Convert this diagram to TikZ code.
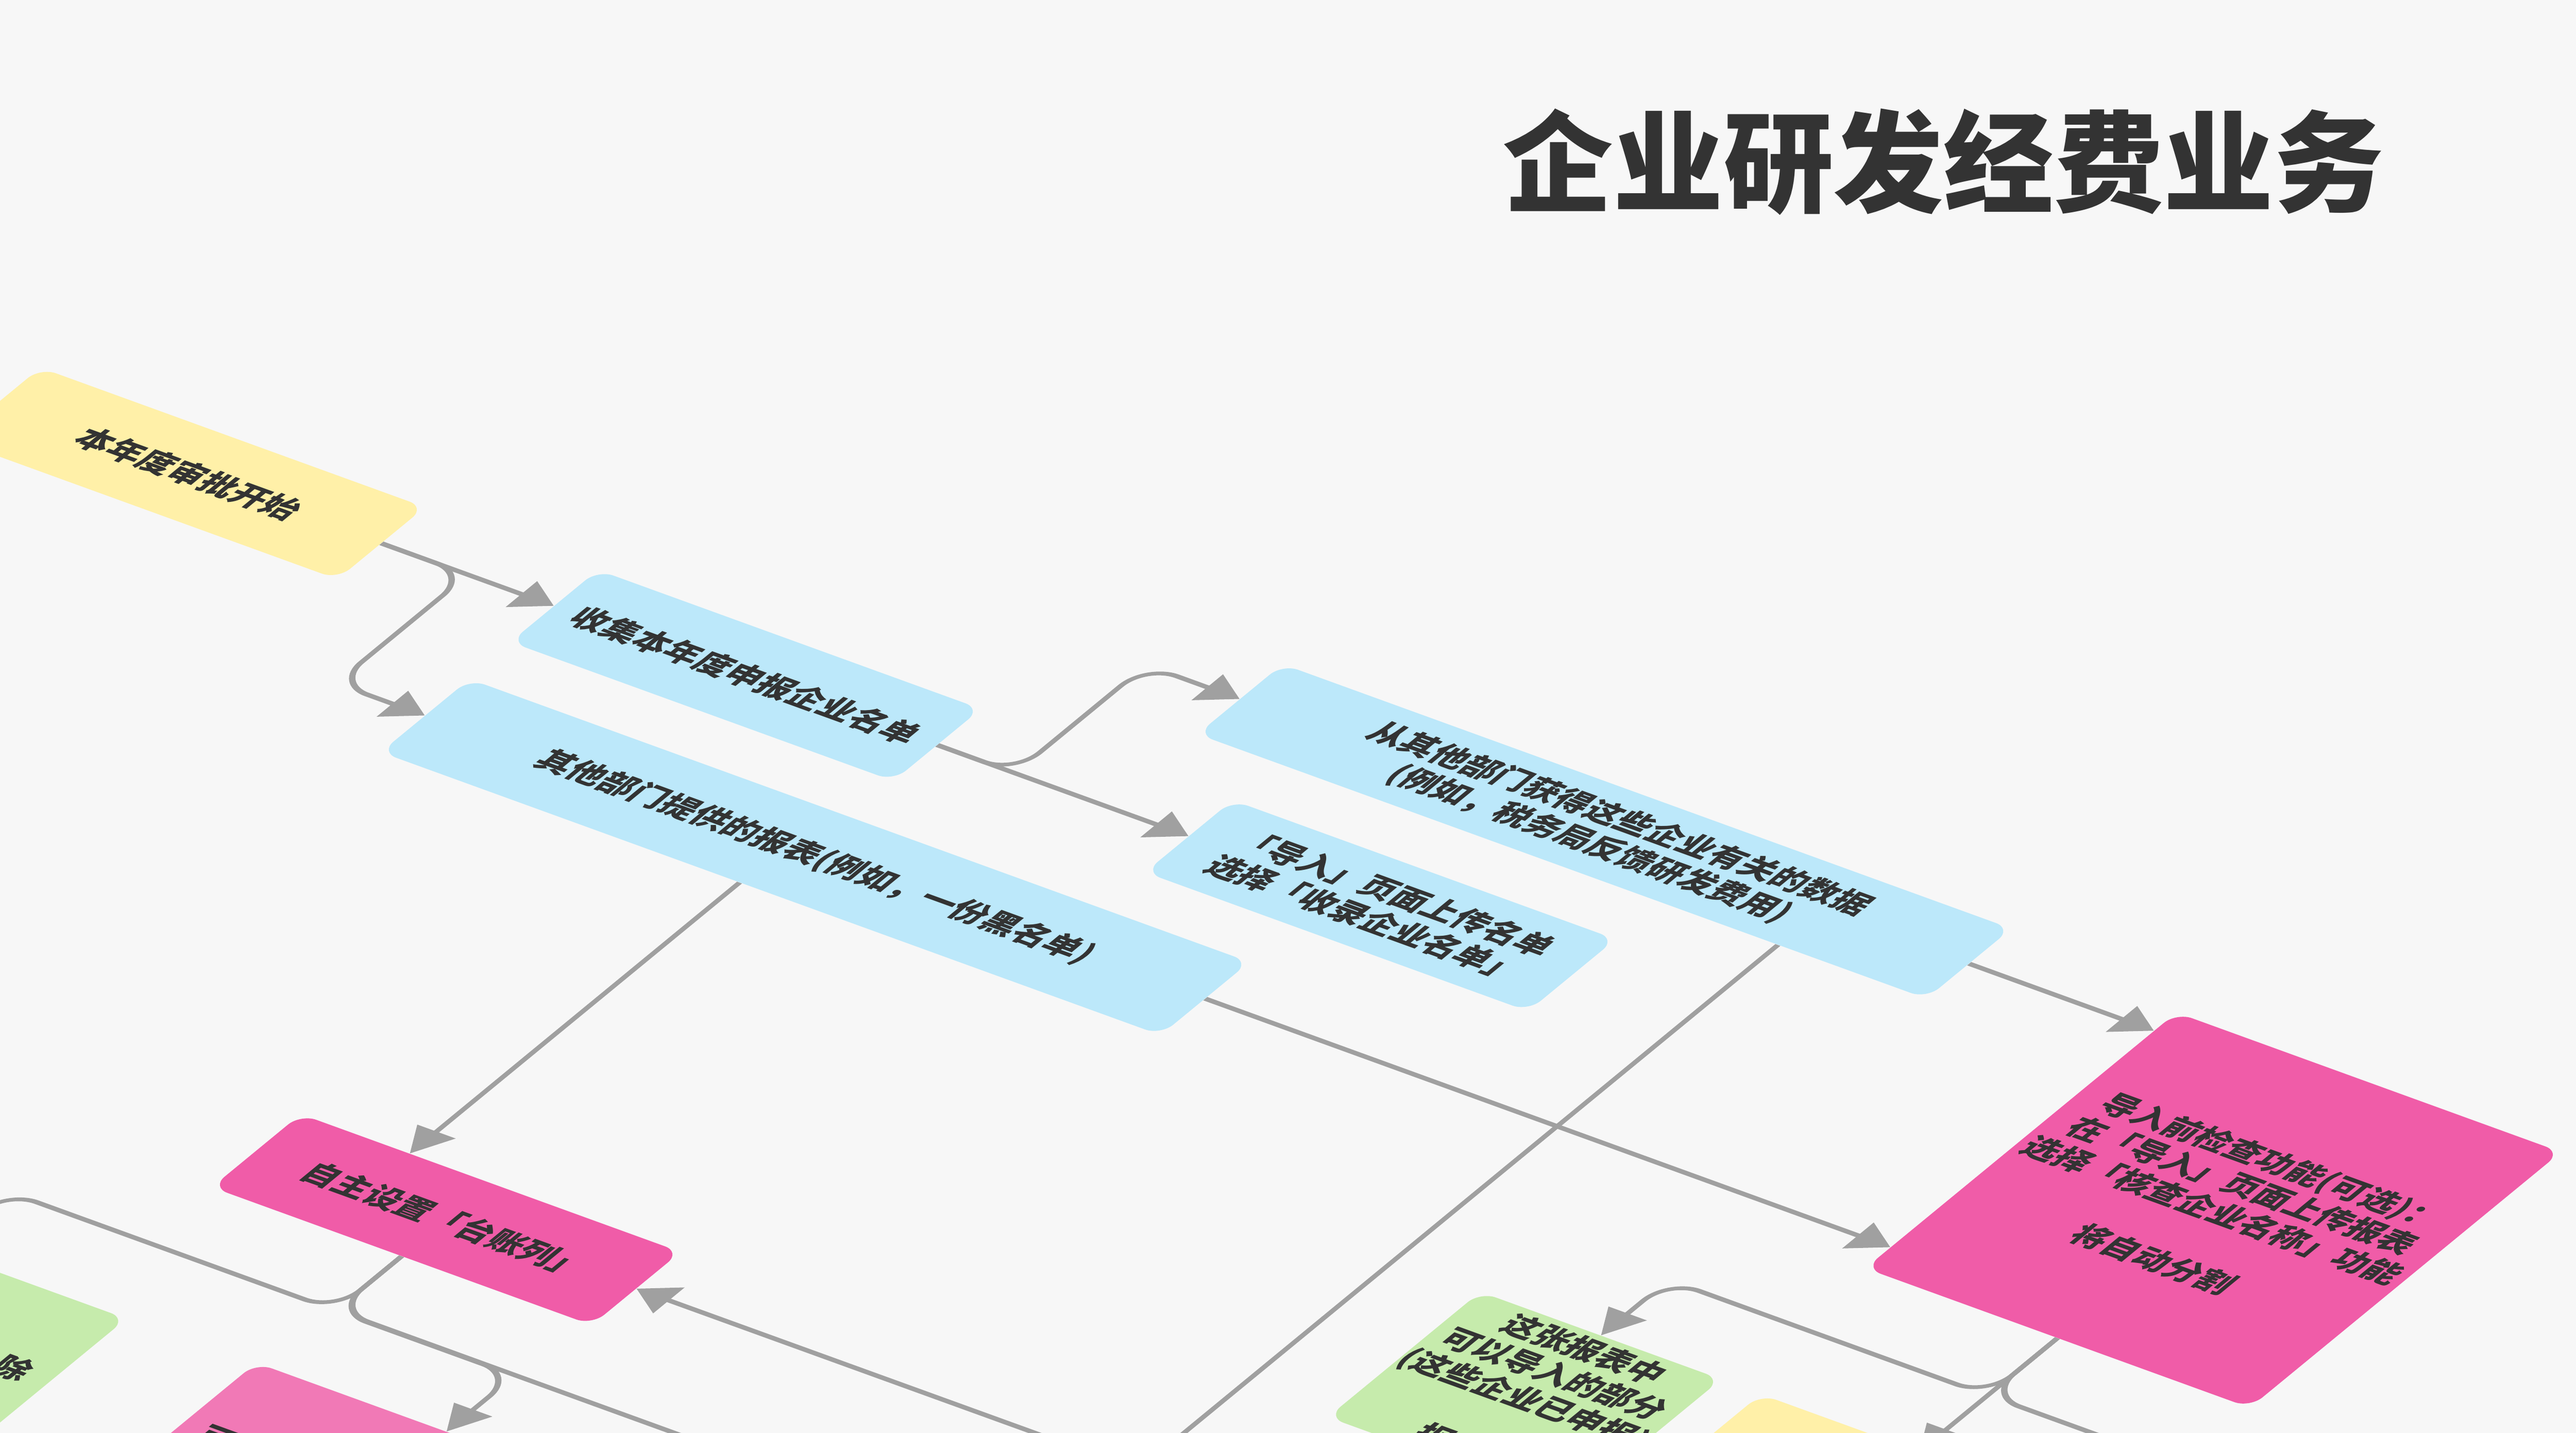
\documentclass[tikz,border=0pt]{standalone}
\usepackage{fontspec}
\usepackage{tikz}
\usetikzlibrary{arrows.meta}
\newfontfamily\cjk{Noto Sans CJK SC}
\definecolor{bgGray}{HTML}{F7F7F7}
\definecolor{lineGray}{HTML}{A0A0A0}
\definecolor{txtGray}{HTML}{333333}
\definecolor{boxYellow}{HTML}{FFF0A8}
\definecolor{boxBlue}{HTML}{BCE8FA}
\definecolor{boxPink}{HTML}{F05CA8}
\definecolor{boxRose}{HTML}{F179B6}
\definecolor{boxGreen}{HTML}{C6EBAC}

\begin{document}
\begin{tikzpicture}[x=1pt,y=1pt,
  box/.style={rectangle, rounded corners=10pt, anchor=north west, inner sep=1pt, align=center,
    text=txtGray, font=\cjk\bfseries\fontsize{20}{23.5}\selectfont},
  wire/.style={draw=lineGray, line width=3.2pt, rounded corners=20pt},
  conn/.style={wire, -{Triangle[length=21pt,width=24pt]}}]

\useasboundingbox (0,0) rectangle (1568,-872);
\clip (0,0) rectangle (1568,-872);
\fill[bgGray] (0,0) rectangle (1568,-872);

\node[font=\cjk\bfseries\fontsize{67}{80}\selectfont, text=txtGray] (nodeTitle) at (1183,-98.5) {企业研发经费业务};

\begin{scope}[transform canvas={cm={0.940,-0.341,0.773,0.635,(0,0)}}]

\node[box, fill=boxYellow, minimum width=249pt, minimum height=69pt] (nodeStart) at (219,-234.5) {本年度审批开始};
\node[box, fill=boxBlue, minimum width=248pt, minimum height=69pt] (nodeCollect) at (580,-234.5) {收集本年度申报企业名单};
\node[box, fill=boxBlue, minimum width=505pt, minimum height=70pt] (nodeReport) at (582,-338) {其他部门提供的报表(例如，一份黑名单)};
\node[box, fill=boxBlue, minimum width=472pt, minimum height=67pt] (nodeData) at (939,-132) {从其他部门获得这些企业有关的数据\\(例如，税务局反馈研发费用)};
\node[box, fill=boxBlue, minimum width=248pt, minimum height=69pt] (nodeUpload) at (991,-234.5) {「导入」页面上传名单\\选择「收录企业名单」};
\node[box, fill=boxPink, minimum width=249pt, minimum height=245pt] (nodeCheck) at (1531,-148) {导入前检查功能(可选)：\\在「导入」页面上传报表\\选择「核查企业名称」功能\\[23.5pt]将自动分割};
\node[box, fill=boxPink, minimum width=246pt, minimum height=70pt] (nodeColumn) at (744,-668) {自主设置「台账列」};
\node[box, fill=boxGreen, minimum width=248pt, minimum height=120pt] (nodeRemove) at (529.5,-846) {\hphantom{除除除除除除除除除除}除};
\node[box, fill=boxRose, minimum width=246pt, minimum height=120pt] (nodeRose) at (860,-844) {可\hphantom{可可可可可可可可可可}};
\node[box, fill=boxGreen, minimum width=156pt, minimum height=120pt, inner sep=0pt] (nodePart) at (1371,-501.6) {这张报表中\\可以导入的部分\\(这些企业已申报)\\[23.5pt]报\hphantom{报报}};
\node[box, fill=boxYellow, minimum width=204pt, minimum height=120pt] (nodeYellow) at (1553,-502) {};

\draw[conn] (nodeStart.east) -- (nodeCollect.west);
\draw[conn] (nodeStart.east) -- ++(56,0) |- (nodeReport.west);
\draw[conn] (nodeCollect.east) -- (nodeUpload.west);
\draw[conn] (nodeCollect.east) -- ++(50,0) |- (nodeData.west);
\draw[conn] (nodeData.east) -- (nodeData.east -| nodeCheck.west);
\draw[conn] (nodeReport.east) -- (nodeReport.east -| nodeCheck.west);
\draw[conn] ([xshift=-20pt]nodeReport.south) -- ([xshift=-20pt]nodeReport.south |- nodeColumn.north);

\coordinate (dataDown) at (1315,-900);
\draw[wire] ([xshift=140pt]nodeData.south) -- ([xshift=140pt]nodeData.south |- dataDown);

\coordinate (columnIn) at (1300,-703);
\draw[conn] (columnIn) -- (nodeColumn.east);
\draw[conn] (nodeColumn.south) -- ++(0,-52) -| (nodeRemove.north);
\draw[conn] (nodeColumn.south) -- ++(0,-52) -| (nodeRose.north);
\coordinate (columnOut) at (1250,-790);
\draw[wire] (nodeColumn.south) |- (columnOut);

\draw[conn] (nodeCheck.south) -- ++(0,-55) -| (nodePart.north);
\draw[conn] (nodeCheck.south) -- (nodeCheck.south |- nodeYellow.north);
\coordinate (checkOut) at (1950,-448);
\draw[wire] (nodeCheck.south) |- (checkOut);

\end{scope}
\end{tikzpicture}
\end{document}
